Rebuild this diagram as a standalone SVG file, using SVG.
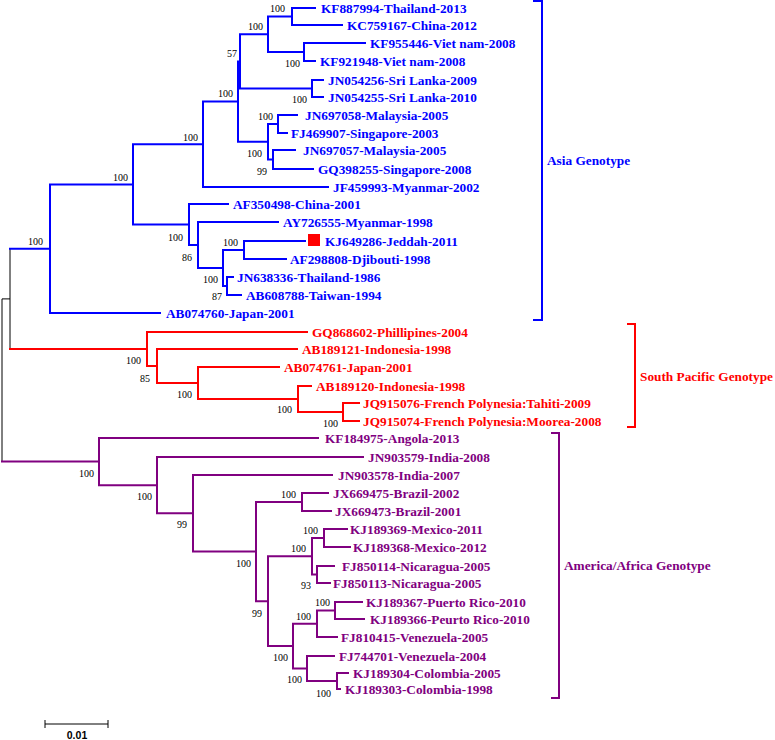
<svg xmlns="http://www.w3.org/2000/svg" width="775" height="740" viewBox="0 0 775 740">
<style>
.b{stroke:#0000FF;stroke-width:2;fill:none;stroke-linecap:square}
.r{stroke:#FF0000;stroke-width:2;fill:none;stroke-linecap:square}
.p{stroke:#800080;stroke-width:2;fill:none;stroke-linecap:square}
.k{stroke:#000;stroke-width:1;fill:none}
text{font-family:"Liberation Serif","Times New Roman",serif}
.lf{font-size:13.3px;font-weight:bold}
.tb{fill:#0000FF}.tr{fill:#FF0000}.tp{fill:#800080}
.bs{font-size:10px;fill:#000}
.gl{font-size:13.3px;font-weight:bold}
</style>
<rect width="775" height="740" fill="#fff"/>
<g id="connectors">
<path class="k" d="M10,248.7V349M2,298.9H10M2,298.9V461.6"/>
<path class="b" d="M10,248.7H50M50,184.4V313M50,184.4H133M50,313H160
M133,144.3V224.5M133,144.3H203M203,101.6V187M203,187H328M203,101.6H238
M238,61.4V141.75M238,61.4H240M240,34.25V88.5M240,34.25H268
M268,16.5V52M268,16.5H292M292,8V25M292,8H315M292,25H342
M268,52H304M304,43V61M304,43H365M304,61H315
M240,88.5H312M312,80V97M312,80H323M312,97H323
M238,141.75H268M268,124V159.5M268,124H278M278,115V133M278,115H297M278,133H287
M268,159.5H273M273,150V169M273,150H295M273,169H313
M133,224.5H189M189,204V245M189,204H228M189,245H198
M198,222V268M198,222H278M198,268H223
M223,250V286M223,250H244M244,241V259M244,241H305M244,259H286
M223,286H227M227,277V295M227,277H233M227,295H241"/>
<path class="r" d="M10,349H147M147,332V366M147,332H307M147,366H157
M157,349V383M157,349H297M157,383H198
M198,367V399M198,367H279M198,399H298
M298,386V412M298,386H311M298,412H343
M343,403V421M343,403H359M343,421H359"/>
<path class="p" d="M2,461.6H99M99,438V485.2M99,438H318M99,485.2H157
M157,457V513.3M157,457H363M157,513.3H193
M193,475V551.6M193,475H332M193,551.6H256
M256,502V601.2M256,502H302M302,493V511M302,493H328M302,511H331
M256,601.2H268M268,556.25V646.1M268,556.25H312
M312,538V574.5M312,538H324M324,529V547M324,529H347M324,547H350
M312,574.5H317M317,566V583M317,566H334M317,583H330
M268,646.1H293M293,623.75V668.5M293,623.75H317
M317,610.5V637M317,610.5H335M335,602V619M335,602H362M335,619H364M317,637H337
M293,668.5H307M307,656V681M307,656H334M307,681H337
M337,673V689M337,673H348M337,689H340"/>
</g>
<g id="asia-leaves" class="lf tb">
<g id="KF887994"><text x="321" y="12.5">KF887994-Thailand-2013</text></g>
<g id="KC759167"><text x="347" y="29.5">KC759167-China-2012</text></g>
<g id="KF955446"><text x="370" y="47.5">KF955446-Viet nam-2008</text></g>
<g id="KF921948"><text x="320" y="65.5">KF921948-Viet nam-2008</text></g>
<g id="JN054256"><text x="328" y="84.5">JN054256-Sri Lanka-2009</text></g>
<g id="JN054255"><text x="328" y="101.5">JN054255-Sri Lanka-2010</text></g>
<g id="JN697058"><text x="305" y="119.5">JN697058-Malaysia-2005</text></g>
<g id="FJ469907"><text x="291" y="137.5">FJ469907-Singapore-2003</text></g>
<g id="JN697057"><text x="303" y="154.5">JN697057-Malaysia-2005</text></g>
<g id="GQ398255"><text x="318" y="173.5">GQ398255-Singapore-2008</text></g>
<g id="JF459993"><text x="333" y="191.5">JF459993-Myanmar-2002</text></g>
<g id="AF350498"><text x="233" y="208.5">AF350498-China-2001</text></g>
<g id="AY726555"><text x="283" y="226.5">AY726555-Myanmar-1998</text></g>
<g id="KJ649286"><rect x="308" y="234" width="12" height="12" fill="#FF0000"/><text x="325" y="245.5">KJ649286-Jeddah-2011</text></g>
<g id="AF298808"><text x="290" y="263.5">AF298808-Djibouti-1998</text></g>
<g id="JN638336"><text x="237" y="281.5">JN638336-Thailand-1986</text></g>
<g id="AB608788"><text x="246" y="299.5">AB608788-Taiwan-1994</text></g>
<g id="AB074760"><text x="166" y="317.5">AB074760-Japan-2001</text></g>
</g>
<g id="sp-leaves" class="lf tr">
<g id="GQ868602"><text x="312" y="336.5">GQ868602-Phillipines-2004</text></g>
<g id="AB189121"><text x="302" y="353.5">AB189121-Indonesia-1998</text></g>
<g id="AB074761"><text x="284" y="371.5">AB074761-Japan-2001</text></g>
<g id="AB189120"><text x="316" y="390.5">AB189120-Indonesia-1998</text></g>
<g id="JQ915076"><text x="363" y="407.5">JQ915076-French Polynesia:Tahiti-2009</text></g>
<g id="JQ915074"><text x="363" y="425.5">JQ915074-French Polynesia:Moorea-2008</text></g>
</g>
<g id="am-leaves" class="lf tp">
<g id="KF184975"><text x="325" y="442.5">KF184975-Angola-2013</text></g>
<g id="JN903579"><text x="368" y="461.5">JN903579-India-2008</text></g>
<g id="JN903578"><text x="338" y="479.5">JN903578-India-2007</text></g>
<g id="JX669475"><text x="333" y="497.5">JX669475-Brazil-2002</text></g>
<g id="JX669473"><text x="335" y="515.5">JX669473-Brazil-2001</text></g>
<g id="KJ189369"><text x="350" y="533.5">KJ189369-Mexico-2011</text></g>
<g id="KJ189368"><text x="353" y="551.5">KJ189368-Mexico-2012</text></g>
<g id="FJ850114"><text x="342" y="570.5">FJ850114-Nicaragua-2005</text></g>
<g id="FJ850113"><text x="333" y="587.5">FJ850113-Nicaragua-2005</text></g>
<g id="KJ189367"><text x="366" y="606.5">KJ189367-Puerto Rico-2010</text></g>
<g id="KJ189366"><text x="370" y="623.5">KJ189366-Peurto Rico-2010</text></g>
<g id="FJ810415"><text x="341" y="641.5">FJ810415-Venezuela-2005</text></g>
<g id="FJ744701"><text x="339" y="660.5">FJ744701-Venezuela-2004</text></g>
<g id="KJ189304"><text x="353" y="677.5">KJ189304-Colombia-2005</text></g>
<g id="KJ189303"><text x="345" y="693.5">KJ189303-Colombia-1998</text></g>
</g>
<g id="bootstrap" class="bs">
<text x="270" y="11.5">100</text>
<text x="248" y="29.5">100</text>
<text x="227" y="56.5">57</text>
<text x="285" y="66.5">100</text>
<text x="218" y="96.5">100</text>
<text x="292" y="102.5">100</text>
<text x="258" y="119.5">100</text>
<text x="247" y="156.5">100</text>
<text x="257" y="174.5">99</text>
<text x="183" y="140.5">100</text>
<text x="113" y="180.5">100</text>
<text x="168" y="240.5">100</text>
<text x="223" y="245.5">100</text>
<text x="182" y="260.5">86</text>
<text x="203" y="282.5">100</text>
<text x="212" y="299.5">87</text>
<text x="28" y="244.5">100</text>
<text x="126" y="363.5">100</text>
<text x="140" y="381.5">85</text>
<text x="177" y="397.5">100</text>
<text x="277" y="412.5">100</text>
<text x="323" y="426.5">100</text>
<text x="79" y="476.5">100</text>
<text x="137" y="499.5">100</text>
<text x="177" y="527.5">99</text>
<text x="236" y="566.5">100</text>
<text x="281" y="497.5">100</text>
<text x="303" y="533.5">100</text>
<text x="291" y="551.5">100</text>
<text x="301" y="588.5">93</text>
<text x="252" y="616.5">99</text>
<text x="296" y="619.5">100</text>
<text x="315" y="605.5">100</text>
<text x="273" y="660.5">100</text>
<text x="287" y="682.5">100</text>
<text x="316" y="696.5">100</text>
</g>
<g id="asia-genotype">
<path class="b" d="M534,1H542V320H534"/>
<text class="gl tb" x="547" y="164.5">Asia Genotype</text>
</g>
<g id="sp-genotype">
<path class="r" d="M628,324H635V427H628"/>
<text class="gl tr" x="640" y="380.5">South Pacific Genotype</text>
</g>
<g id="am-genotype">
<path class="p" d="M552,433H559V698H552"/>
<text class="gl tp" x="564" y="569.5">America/Africa Genotype</text>
</g>
<g id="scale">
<path class="k" d="M45,724H108M45,720V728M108,720V728"/>
<text x="77" y="738.5" text-anchor="middle" style="font-family:'Liberation Sans',Arial,sans-serif;font-size:10.5px;font-weight:bold">0.01</text>
</g>
</svg>
